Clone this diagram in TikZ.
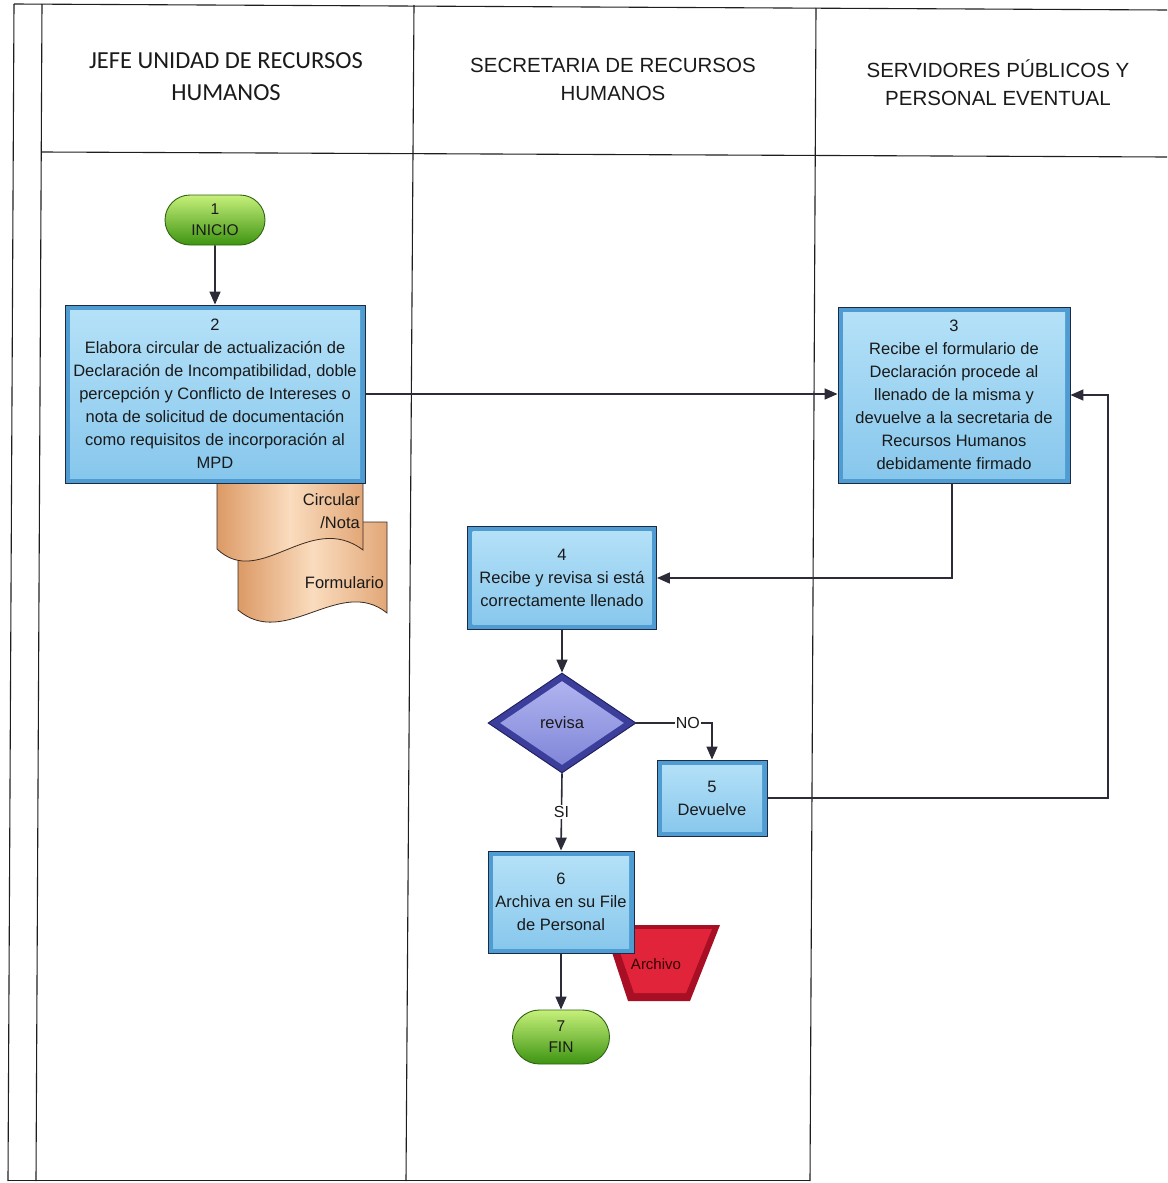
\documentclass[tikz,border=0pt]{standalone}
\usepackage{fontspec}
\setmainfont{Liberation Sans}
\newfontfamily\hdrfont{Carlito}
\usetikzlibrary{arrows.meta,shapes.misc,shapes.geometric}

\definecolor{frameline}{HTML}{1E1E1E}
\definecolor{flowline}{HTML}{2C2C38}
\definecolor{boxline}{HTML}{1C2A44}
\definecolor{boxedge}{HTML}{4E9CD2}
\definecolor{boxtop}{HTML}{B6E2F8}
\definecolor{boxbot}{HTML}{86C6EC}
\definecolor{termline}{HTML}{2E6410}
\definecolor{termtop}{HTML}{C6F07A}
\definecolor{termmid}{HTML}{86D024}
\definecolor{termbot}{HTML}{3E9412}
\definecolor{decline}{HTML}{1E1E5A}
\definecolor{decedge}{HTML}{3C3E9C}
\definecolor{dectop}{HTML}{B4B8F2}
\definecolor{decbot}{HTML}{7C82D6}
\definecolor{docline}{HTML}{3A2A20}
\definecolor{docedge}{HTML}{DC9A66}
\definecolor{doclight}{HTML}{FADCBE}
\definecolor{archedge}{HTML}{A80F24}
\definecolor{archfill}{HTML}{E2243A}
\definecolor{txt}{HTML}{1A1A1A}

\tikzset{
  lane/.style={draw=frameline, line width=1.1pt},
  hdr/.style={align=center, text=txt, font=\fontsize{20.5}{28}\selectfont},
  flow/.style={draw=flowline, line width=1.6pt,
    -{Triangle[length=13pt,width=11pt]}},
  proc/.style={draw=boxline, line width=0.9pt, fill=boxedge, align=center,
    text=txt, inner sep=0pt, font=\fontsize{16.5}{23}\selectfont,
    path picture={\shade[top color=boxtop, bottom color=boxbot]
      ([shift={(5pt,-5pt)}]path picture bounding box.north west) rectangle
      ([shift={(-5pt,5pt)}]path picture bounding box.south east);}},
  term/.style={rounded rectangle, draw=termline, line width=0.9pt,
    top color=termtop, middle color=termmid, bottom color=termbot,
    align=center, text=txt, inner sep=0pt,
    font=\fontsize{15.5}{21}\selectfont},
  decide/.style={diamond, draw=decline, line width=0.9pt, fill=decedge,
    inner sep=0pt, text=txt, font=\fontsize{16.5}{20}\selectfont,
    path picture={\shade[top color=dectop, bottom color=decbot]
      ([yshift=-8pt]path picture bounding box.north) --
      ([xshift=-12pt]path picture bounding box.east) --
      ([yshift=8pt]path picture bounding box.south) --
      ([xshift=12pt]path picture bounding box.west) -- cycle;}},
  doclabel/.style={align=right, anchor=east, text=txt, inner sep=0pt,
    font=\fontsize{16.5}{22.5}\selectfont},
  onwire/.style={fill=white, inner sep=1pt, text=txt,
    font=\fontsize{16}{18}\selectfont},
}

\begin{document}
\begin{tikzpicture}[x=1pt,y=-1pt]
\useasboundingbox (0,0) rectangle (1167,1183);

% swimlane frame
\draw[lane] (14,4) -- (1167,10);
\draw[lane] (14,4) -- (8,1181);
\draw[lane] (42,4) -- (36,1181);
\draw[lane] (414,5) -- (406,1181);
\draw[lane] (816,8) -- (810,1181);
\draw[lane] (42,152) -- (1167,157);
\draw[lane, line width=0.8pt] (8,1180) -- (810,1180);

% lane headings
\node[hdr, font=\hdrfont\fontsize{24.5}{32}\selectfont] (h1) at (226,77)
  {JEFE UNIDAD DE RECURSOS\\HUMANOS};
\node[hdr] (h2) at (613,79) {SECRETARIA DE RECURSOS\\HUMANOS};
\node[hdr] (h3) at (998,83) {SERVIDORES PÚBLICOS Y\\PERSONAL EVENTUAL};

% documents issued with step 2
\shade[left color=docedge, right color=docedge!80!doclight, middle color=doclight, draw=docline, line width=0.8pt]
  (238,522) -- (387,522) -- (387,613)
  .. controls (340,575) and (285,650) .. (238,610) -- cycle;
\shade[left color=docedge, right color=docedge!80!doclight, middle color=doclight, draw=docline, line width=0.8pt]
  (217,483) -- (363,483) -- (363,550)
  .. controls (310,510) and (260,590) .. (217,549) -- cycle;
\node[doclabel] (d1) at (360,511) {Circular\\/Nota};
\node[doclabel] (d2) at (384,583) {Formulario};

% archive store for step 6
\fill[archedge] (603,925) -- (720,925) -- (690,1001) -- (628,1001) -- cycle;
\fill[archfill] (612,929) -- (712,929) -- (686,993) -- (634,993) -- cycle;
\node[text=black!80!red, font=\fontsize{15}{18}\selectfont] (arch) at (656,964) {Archivo};

% process steps
\node[term, minimum width=100pt, minimum height=50pt] (ini) at (215,220) {1\\INICIO};
\node[proc, minimum width=300pt, minimum height=178pt] (b2) at (215,394)
  {2\\Elabora circular de actualización de\\Declaración de Incompatibilidad, doble\\percepción y Conflicto de Intereses o\\nota de solicitud de documentación\\como requisitos de incorporación al\\MPD};
\node[proc, minimum width=232pt, minimum height=176pt] (b3) at (954,395)
  {3\\Recibe el formulario de\\Declaración procede al\\llenado de la misma y\\devuelve a la secretaria de\\Recursos Humanos\\debidamente firmado};
\node[proc, minimum width=189pt, minimum height=103pt] (b4) at (562,578)
  {4\\Recibe y revisa si está\\correctamente llenado};
\node[decide, minimum width=148pt, minimum height=100pt] (dec) at (562,723) {revisa};
\node[proc, minimum width=110pt, minimum height=76pt] (b5) at (712,798) {5\\Devuelve};
\node[proc, minimum width=146pt, minimum height=102pt] (b6) at (561,902)
  {6\\Archiva en su File\\de Personal};
\node[term, minimum width=97pt, minimum height=54pt] (fin) at (561,1037) {7\\FIN};

\coordinate (ret) at (1108,798);

% connectors
\draw[flow] (ini) -- (b2);
\draw[flow] (b2.east) -- (b2.east -| b3.west);
\draw[flow] (b3.south -| 952,0) |- (b4.east);
\draw[flow] (b4) -- (dec);
\draw[flow] (dec.east) -- node[onwire, pos=0.68] {NO} (dec.east -| b5.north) -- (b5.north);
\draw[flow] (b5.east) -- (ret) |- (b3.east);
\draw[flow] (dec.south) -- node[onwire, pos=0.5] {SI} (b6.north);
\draw[flow] (b6) -- (fin);
\end{tikzpicture}
\end{document}
